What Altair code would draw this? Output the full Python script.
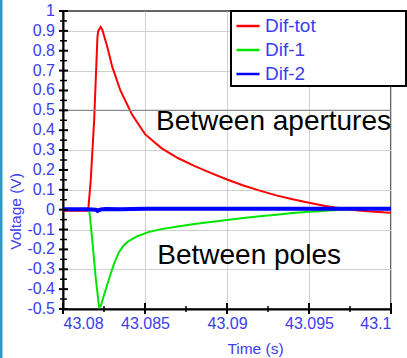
import altair as alt
import pandas as pd

# ---------------- data ----------------
series_names = ["Dif-tot", "Dif-1", "Dif-2"]
series_colors = ["#ff0000", "#00e600", "#0000ff"]
series_widths = [2, 2, 4]

t_tot = [43.0800, 43.0815, 43.08154, 43.08169, 43.0819, 43.0821, 43.08215, 43.0823, 43.0824,
         43.0827, 43.0830, 43.0835, 43.0842, 43.0850, 43.0860, 43.0870, 43.0880,
         43.0890, 43.0900, 43.0910, 43.0920, 43.0930, 43.0940, 43.0950, 43.0960,
         43.0970, 43.0980, 43.0990, 43.1000]
v_tot = [-0.005, -0.005, 0.0, 0.146, 0.45, 0.87, 0.90, 0.92, 0.905,
         0.82, 0.72, 0.60, 0.48, 0.38, 0.31, 0.26, 0.22,
         0.185, 0.152, 0.122, 0.096, 0.072, 0.052, 0.035, 0.019,
         0.006, -0.004, -0.01, -0.015]

t_d1 = [43.0800, 43.0816, 43.08179, 43.08199, 43.0822, 43.0823, 43.0825, 43.0828,
        43.0831, 43.0834, 43.0837, 43.0840, 43.0845, 43.0852, 43.0860, 43.0870, 43.0880,
        43.0890, 43.0900, 43.0910, 43.0920, 43.0930, 43.0940, 43.0950, 43.0960,
        43.0970, 43.0980, 43.1000]
v_d1 = [0.0, 0.0, -0.157, -0.34, -0.49, -0.485, -0.43, -0.35,
        -0.275, -0.215, -0.18, -0.158, -0.135, -0.113, -0.098, -0.085, -0.072,
        -0.062, -0.052, -0.042, -0.033, -0.025, -0.017, -0.011, -0.005,
        0.0, 0.004, 0.006]

t_d2 = [43.0800, 43.0815, 43.0820, 43.0821, 43.0823, 43.0826, 43.0835, 43.0850,
        43.0870, 43.0900, 43.0930, 43.0950, 43.0980, 43.1000]
v_d2 = [0.002, 0.002, 0.0, -0.006, 0.001, 0.003, 0.002, 0.004,
        0.004, 0.005, 0.004, 0.005, 0.004, 0.004]

x_major = [43.08, 43.085, 43.09, 43.095, 43.1]
x_minor = [43.0825, 43.0875, 43.0925, 43.0975]
y_major = [-0.5, -0.4, -0.3, -0.2, -0.1, 0, 0.1, 0.2, 0.3, 0.4, 0.5, 0.6, 0.7, 0.8, 0.9, 1]
y_labels = ["-0.5", "-0.4", "-0.3", "-0.2", "-0.1", "0", "0.1", "0.2", "0.3", "0.4",
            "0.5", "0.6", "0.7", "0.8", "0.9", "1"]
y_minor = [-0.45, -0.35, -0.25, -0.15, -0.05, 0.05, 0.15, 0.25, 0.35, 0.45,
           0.55, 0.65, 0.75, 0.85, 0.95]
ref_lines = [0.5]

ann_text = ["Between apertures", "Between poles"]
ann_t = [43.08567, 43.08575]
ann_v = [0.402, -0.274]

BLUE = "#3c3cf0"
FONT = "Liberation Sans"

xscale = alt.Scale(domain=[43.08, 43.1], nice=False, zero=False)
yscale = alt.Scale(domain=[-0.5, 1], nice=False, zero=False)

# invisible (white) spacer title on the right widens the legend box
leg = alt.Legend(
    orient="none", legendX=168, legendY=0,
    title="xxxxxxxxxx", titleOrient="right", titleColor="white", titleFontSize=15,
    titlePadding=4,
    strokeColor="black", fillColor="white",
    padding=2, symbolType="stroke", symbolSize=529, symbolStrokeWidth=2.5, symbolOffset=2,
    labelFontSize=19, labelColor=BLUE, labelFont=FONT, labelOffset=4,
    labelLimit=400, rowPadding=1,
)

xaxis = alt.Axis(values=x_major, format="~g", title="Time (s)", grid=True, ticks=False)
yaxis = alt.Axis(values=y_major, title="Voltage (V)", grid=True, ticks=False,
                 labels=False)

line_layers = []
for name, ts, vs, w in zip(series_names, [t_tot, t_d1, t_d2], [v_tot, v_d1, v_d2], series_widths):
    d = pd.DataFrame({"series": name, "t": ts, "v": vs})
    line_layers.append(
        alt.Chart(d).mark_line(clip=True, strokeWidth=w).encode(
            x=alt.X("t:Q", scale=xscale, axis=xaxis),
            y=alt.Y("v:Q", scale=yscale, axis=yaxis),
            color=alt.Color("series:N",
                            scale=alt.Scale(domain=series_names, range=series_colors),
                            legend=leg),
            order=alt.Order("t:Q"),
        )
    )

ref = alt.Chart(pd.DataFrame({"y": ref_lines})).mark_rule(color="#8a8a8a", strokeWidth=1.3).encode(
    y=alt.Y("y:Q", scale=yscale)
)

ylab = alt.Chart(pd.DataFrame({"y": y_major, "lab": y_labels})).mark_text(
    align="right", baseline="middle", fontSize=16, font=FONT, color=BLUE).encode(
    y=alt.Y("y:Q", scale=yscale), x=alt.value(-8), text="lab:N")

xt_major = alt.Chart(pd.DataFrame({"x": x_major})).mark_rule(
    color="black", strokeWidth=2).encode(
    x=alt.X("x:Q", scale=xscale), y=alt.value(292), y2=alt.value(303))
xt_minor = alt.Chart(pd.DataFrame({"x": x_minor})).mark_rule(
    color="black", strokeWidth=1.5).encode(
    x=alt.X("x:Q", scale=xscale), y=alt.value(295), y2=alt.value(301))
yt_major = alt.Chart(pd.DataFrame({"y": y_major})).mark_rule(
    color="black", strokeWidth=2).encode(
    y=alt.Y("y:Q", scale=yscale), x=alt.value(-4), x2=alt.value(5))
yt_minor = alt.Chart(pd.DataFrame({"y": y_minor})).mark_rule(
    color="black", strokeWidth=1.5).encode(
    y=alt.Y("y:Q", scale=yscale), x=alt.value(-3), x2=alt.value(4))

ann = alt.Chart(pd.DataFrame({"text": ann_text, "t": ann_t, "v": ann_v})).mark_text(
    align="left", baseline="alphabetic", fontSize=28, font=FONT, color="black").encode(
    x=alt.X("t:Q", scale=xscale), y=alt.Y("v:Q", scale=yscale),
    text="text:N")

border = alt.Chart(pd.DataFrame({"k": [0]})).mark_rule(color="#2a9cc4", strokeWidth=3).encode(
    x=alt.value(-62), y=alt.value(-11), y2=alt.value(347))

chart = alt.layer(*line_layers, ref, ann, ylab, xt_minor, xt_major, yt_minor, yt_major,
                  border).properties(
    width=328, height=298,
    autosize=alt.AutoSizeParams(type="none"),
    padding={"left": 63, "top": 11, "right": 16, "bottom": 49},
).configure(font=FONT).configure_view(
    stroke="#333333", strokeWidth=1.5
).configure_legend(
    strokeWidth=2
).configure_axis(
    gridColor="#d0d0d0", gridWidth=1,
    domainColor="black", domainWidth=2,
    labelColor=BLUE, labelFontSize=16, labelFont=FONT,
    titleColor=BLUE, titleFontSize=15.5, titleFont=FONT, titleFontWeight="normal",
).configure_axisX(
    labelPadding=6, titleX=192, titleY=44, titleBaseline="alphabetic",
).configure_axisY(
    titleX=-48, titleY=200, titleAlign="center", titleBaseline="middle",
)

chart.save("out.html", embed_options={"renderer": "svg", "actions": False})
